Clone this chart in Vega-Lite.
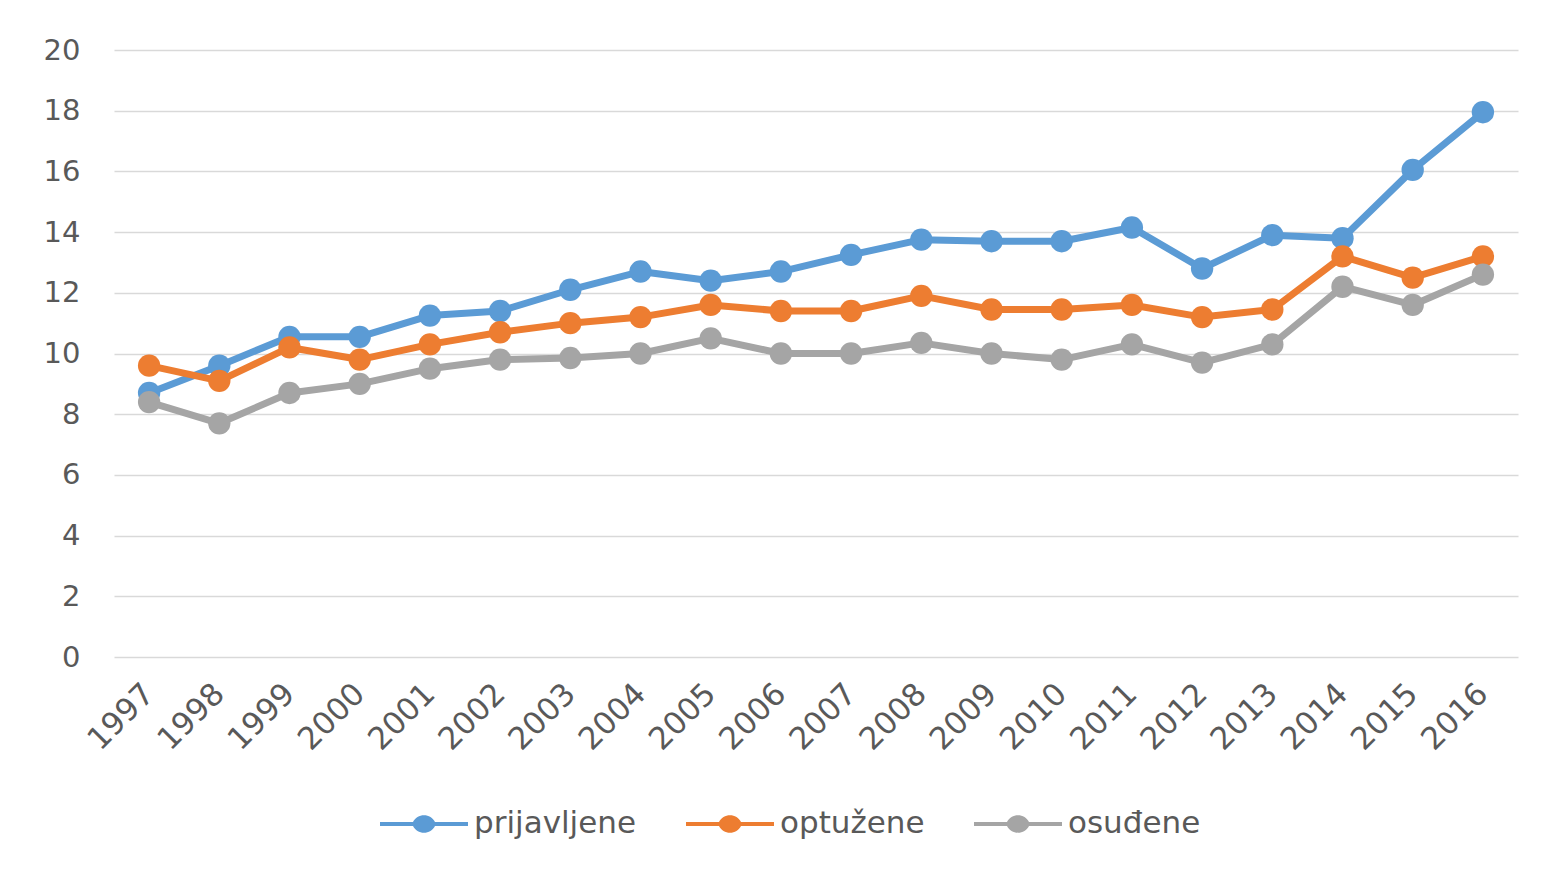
{
  "$schema": "https://vega.github.io/schema/vega-lite/v6.json",
  "width": 1404,
  "height": 607,
  "autosize": {"type": "none"},
  "padding": {"left": 114, "top": 50, "right": 44, "bottom": 222},
  "background": "white",
  "config": {
    "font": "DejaVu Sans",
    "view": {"stroke": null},
    "axis": {"labelFont": "DejaVu Sans", "labelColor": "#595959", "labelFontSize": 29, "domain": false, "ticks": false, "gridColor": "#d9d9d9", "gridWidth": 1.5, "title": null},
    "legend": {"labelFont": "DejaVu Sans", "labelColor": "#595959", "labelFontSize": 31, "labelLimit": 400}
  },
  "data": {
    "values": [
      {"year": "1997", "series": "prijavljene", "value": 8.7},
      {"year": "1998", "series": "prijavljene", "value": 9.6},
      {"year": "1999", "series": "prijavljene", "value": 10.55},
      {"year": "2000", "series": "prijavljene", "value": 10.55},
      {"year": "2001", "series": "prijavljene", "value": 11.25},
      {"year": "2002", "series": "prijavljene", "value": 11.4},
      {"year": "2003", "series": "prijavljene", "value": 12.1},
      {"year": "2004", "series": "prijavljene", "value": 12.7},
      {"year": "2005", "series": "prijavljene", "value": 12.4},
      {"year": "2006", "series": "prijavljene", "value": 12.7},
      {"year": "2007", "series": "prijavljene", "value": 13.25},
      {"year": "2008", "series": "prijavljene", "value": 13.75},
      {"year": "2009", "series": "prijavljene", "value": 13.7},
      {"year": "2010", "series": "prijavljene", "value": 13.7},
      {"year": "2011", "series": "prijavljene", "value": 14.15},
      {"year": "2012", "series": "prijavljene", "value": 12.8},
      {"year": "2013", "series": "prijavljene", "value": 13.9},
      {"year": "2014", "series": "prijavljene", "value": 13.8},
      {"year": "2015", "series": "prijavljene", "value": 16.05},
      {"year": "2016", "series": "prijavljene", "value": 17.95},
      {"year": "1997", "series": "optužene", "value": 9.6},
      {"year": "1998", "series": "optužene", "value": 9.1},
      {"year": "1999", "series": "optužene", "value": 10.2},
      {"year": "2000", "series": "optužene", "value": 9.8},
      {"year": "2001", "series": "optužene", "value": 10.3},
      {"year": "2002", "series": "optužene", "value": 10.7},
      {"year": "2003", "series": "optužene", "value": 11.0},
      {"year": "2004", "series": "optužene", "value": 11.2},
      {"year": "2005", "series": "optužene", "value": 11.6},
      {"year": "2006", "series": "optužene", "value": 11.4},
      {"year": "2007", "series": "optužene", "value": 11.4},
      {"year": "2008", "series": "optužene", "value": 11.9},
      {"year": "2009", "series": "optužene", "value": 11.45},
      {"year": "2010", "series": "optužene", "value": 11.45},
      {"year": "2011", "series": "optužene", "value": 11.6},
      {"year": "2012", "series": "optužene", "value": 11.2},
      {"year": "2013", "series": "optužene", "value": 11.45},
      {"year": "2014", "series": "optužene", "value": 13.2},
      {"year": "2015", "series": "optužene", "value": 12.5},
      {"year": "2016", "series": "optužene", "value": 13.2},
      {"year": "1997", "series": "osuđene", "value": 8.4},
      {"year": "1998", "series": "osuđene", "value": 7.7},
      {"year": "1999", "series": "osuđene", "value": 8.7},
      {"year": "2000", "series": "osuđene", "value": 9.0},
      {"year": "2001", "series": "osuđene", "value": 9.5},
      {"year": "2002", "series": "osuđene", "value": 9.8},
      {"year": "2003", "series": "osuđene", "value": 9.85},
      {"year": "2004", "series": "osuđene", "value": 10.0},
      {"year": "2005", "series": "osuđene", "value": 10.5},
      {"year": "2006", "series": "osuđene", "value": 10.0},
      {"year": "2007", "series": "osuđene", "value": 10.0},
      {"year": "2008", "series": "osuđene", "value": 10.35},
      {"year": "2009", "series": "osuđene", "value": 10.0},
      {"year": "2010", "series": "osuđene", "value": 9.8},
      {"year": "2011", "series": "osuđene", "value": 10.3},
      {"year": "2012", "series": "osuđene", "value": 9.7},
      {"year": "2013", "series": "osuđene", "value": 10.3},
      {"year": "2014", "series": "osuđene", "value": 12.2},
      {"year": "2015", "series": "osuđene", "value": 11.6},
      {"year": "2016", "series": "osuđene", "value": 12.6}
    ]
  },
  "encoding": {
    "x": {"field": "year", "type": "ordinal", "scale": {"type": "point", "padding": 0.5},
      "axis": {"labelAngle": -45, "labelAlign": "right", "labelBaseline": "middle", "labelPadding": 32, "labelFontSize": 31, "grid": false}},
    "y": {"field": "value", "type": "quantitative", "scale": {"domain": [0, 20], "nice": false},
      "axis": {"values": [0, 2, 4, 6, 8, 10, 12, 14, 16, 18, 20], "labelPadding": 34, "grid": true}},
    "color": {"field": "series", "type": "nominal",
      "scale": {"domain": ["prijavljene", "optužene", "osuđene"], "range": ["#5B9BD5", "#ED7D31", "#A5A5A5"]},
      "legend": {"title": null, "orient": "none", "direction": "horizontal", "legendX": 266, "legendY": 730,
        "symbolType": "M-1,-0.045H-0.25A0.28,0.28 0 0,1 0.25,-0.045H1V0.045H0.25A0.28,0.28 0 0,1 -0.25,0.045H-1Z",
        "symbolSize": 7744, "symbolStrokeWidth": 0, "labelOffset": 6, "columnPadding": 49}}
  },
  "layer": [
    {"mark": {"type": "line", "strokeWidth": 7, "strokeCap": "round", "strokeJoin": "round"}},
    {"mark": {"type": "point", "filled": true, "opacity": 1, "size": 500}}
  ]
}
